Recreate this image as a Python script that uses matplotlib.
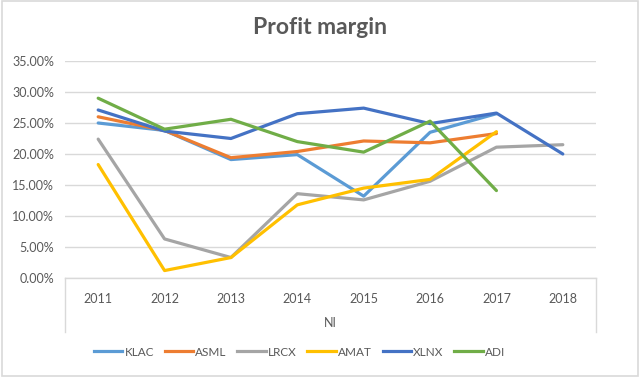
import matplotlib
matplotlib.use("Agg")
import matplotlib.pyplot as plt
from matplotlib.ticker import PercentFormatter
from matplotlib.lines import Line2D
from matplotlib.patches import Rectangle

years = ["2011", "2012", "2013", "2014", "2015", "2016", "2017", "2018"]
klac = [25.0, 23.8, 19.1, 19.9, 13.2, 23.5, 26.5, None]
asml = [26.0, 23.8, 19.4, 20.4, 22.1, 21.8, 23.3, None]
lrcx = [22.4, 6.3, 3.3, 13.6, 12.6, 15.6, 21.1, 21.5]
amat = [18.3, 1.2, 3.3, 11.8, 14.5, 15.9, 23.6, None]
xlnx = [27.1, 23.7, 22.5, 26.5, 27.4, 24.9, 26.6, 20.0]
adi = [29.0, 24.0, 25.6, 22.0, 20.3, 25.3, 14.1, None]

series = [("KLAC", klac, "#5B9BD5"), ("ASML", asml, "#ED7D31"),
          ("LRCX", lrcx, "#A5A5A5"), ("AMAT", amat, "#FFC000"),
          ("XLNX", xlnx, "#4472C4"), ("ADI", adi, "#70AD47")]

plt.rcParams['font.family'] = ['Lato', 'DejaVu Sans']
txt = "#595959"

fig = plt.figure(figsize=(6.4, 3.77), dpi=100)
fig.patches.append(Rectangle((0.003, 0.003), 0.994, 0.994, transform=fig.transFigure,
                             fill=False, edgecolor="#D9D9D9", linewidth=1.2))
ax = fig.add_axes([65/640, 1-278/377, (596-65)/640, (278-61)/377 + 0.0])
x = list(range(len(years)))
for name, vals, col in series:
    xs = [i for i, v in zip(x, vals) if v is not None]
    ys = [v/100 for v in vals if v is not None]
    ax.plot(xs, ys, color=col, linewidth=2.3, solid_capstyle="round", label=name, zorder=3)

ax.set_xlim(-0.5, 7.5)
ax.set_ylim(0, 0.35)
ax.set_yticks([i*0.05 for i in range(8)])
ax.yaxis.set_major_formatter(PercentFormatter(1.0, decimals=2))
ax.grid(axis="y", color="#D9D9D9", linewidth=1)
ax.set_axisbelow(True)
for s in ax.spines.values():
    s.set_visible(False)
ax.tick_params(axis="y", length=0, labelsize=9, labelcolor=txt, pad=8)
ax.set_xticks(x)
ax.set_xticklabels(years)
ax.tick_params(axis="x", length=0, labelsize=9, labelcolor=txt, pad=11)

# category box (multi-level axis)
bottom_y = 1 - 332/377
ax_y0 = 1 - 278/377
xl, xr = 65/640, 596/640
fig.add_artist(Line2D([xl, xr], [ax_y0, ax_y0], color="#D9D9D9", linewidth=1, transform=fig.transFigure))
fig.add_artist(Line2D([xl, xl], [ax_y0, bottom_y], color="#D9D9D9", linewidth=1, transform=fig.transFigure))
fig.add_artist(Line2D([xr, xr], [ax_y0, bottom_y], color="#D9D9D9", linewidth=1, transform=fig.transFigure))
fig.text((xl+xr)/2, 1-323/377, "NI", ha="center", va="center", fontsize=9, color=txt)

fig.text(0.5, 1-27/377, "Profit margin", ha="center", va="center", fontsize=16.5,
         fontweight="bold", color=txt)

handles = [Line2D([0], [0], color=c, linewidth=2.3) for _, _, c in series]
fig.legend(handles, [n for n, _, _ in series], loc="center", bbox_to_anchor=(0.468, 1-352/377),
           ncol=6, frameon=False, fontsize=8.5, labelcolor=txt, handlelength=2.4,
           handletextpad=0.2, columnspacing=0.9)

fig.savefig("out.png", dpi=100)
